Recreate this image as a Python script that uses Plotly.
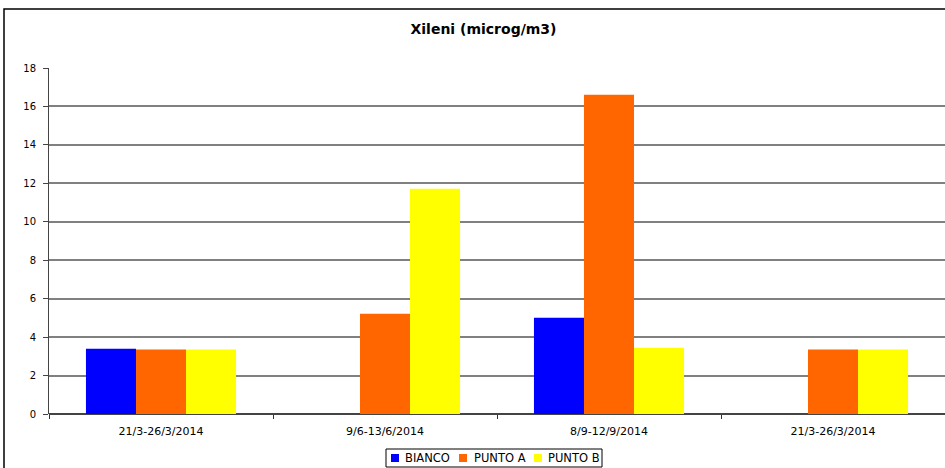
import plotly.graph_objects as go

# Sampling periods (the first and last share the same label)
periods = ["21/3-26/3/2014", "9/6-13/6/2014", "8/9-12/9/2014", "21/3-26/3/2014"]

# Xylene concentrations, microg/m3 (None = no measurement)
bianco = [3.40, None, 5.01, None]
punto_a = [3.35, 5.22, 16.61, 3.35]
punto_b = [3.35, 11.72, 3.45, 3.35]

series_names = ["BIANCO", "PUNTO A", "PUNTO B"]
series_values = [bianco, punto_a, punto_b]
series_colors = ["#0000FF", "#FF6600", "#FFFF00"]

W, H = 945, 468
ML, MR, MT, MB = 49, 0, 68, 54
PW, PH = W - ML - MR, H - MT - MB


def px_x(x):
    """Pixel column -> paper x."""
    return (x - ML) / PW


def px_y(y):
    """Pixel row -> paper y."""
    return (H - MB - y) / PH


positions = list(range(len(periods)))
font_family = "DejaVu Sans, Verdana, sans-serif"

fig = go.Figure()
for name, values, color in zip(series_names, series_values, series_colors):
    fig.add_trace(go.Bar(
        x=positions, y=values, name=name, showlegend=False,
        marker=dict(color=color, line=dict(width=0)),
    ))

# Boxed legend below the plot
legend_box = dict(x0=386, x1=602, y0=449, y1=467)
legend_marker_x = [391, 459, 534]
legend_text_x = [403, 472, 546]
legend_mid_y = 458

shapes = [
    # frame around the whole chart
    dict(type="rect", xref="paper", yref="paper",
         x0=px_x(4), x1=px_x(W + 20), y0=px_y(H + 20), y1=px_y(9),
         line=dict(color="black", width=1.5), fillcolor="rgba(0,0,0,0)",
         layer="below"),
    dict(type="rect", xref="paper", yref="paper",
         x0=px_x(legend_box["x0"]), x1=px_x(legend_box["x1"]),
         y0=px_y(legend_box["y1"]), y1=px_y(legend_box["y0"]),
         line=dict(color="black", width=1), fillcolor="white"),
]
annotations = []
for name, color, mx, tx in zip(series_names, series_colors, legend_marker_x, legend_text_x):
    shapes.append(dict(
        type="rect", xref="paper", yref="paper",
        x0=px_x(mx), x1=px_x(mx + 8),
        y0=px_y(legend_mid_y + 4), y1=px_y(legend_mid_y - 4),
        line=dict(width=0), fillcolor=color,
    ))
    annotations.append(dict(
        text=name, xref="paper", yref="paper",
        x=px_x(tx), y=px_y(legend_mid_y), xanchor="left", yanchor="middle",
        showarrow=False, font=dict(family=font_family, size=11.5, color="black"),
    ))

fig.update_layout(
    width=W, height=H,
    margin=dict(l=ML, r=MR, t=MT, b=MB),
    paper_bgcolor="white", plot_bgcolor="white",
    barmode="group", bargap=0.33, bargroupgap=0,
    font=dict(family=font_family, size=10, color="black"),
    showlegend=False,
    title=dict(
        text="<b>Xileni (microg/m3)</b>",
        x=483.5 / W, xref="container", xanchor="center",
        y=1 - 29 / H, yref="container", yanchor="middle",
        font=dict(family=font_family, size=14, color="black"),
    ),
    xaxis=dict(
        range=[-0.5, len(periods) - 0.5],
        tickmode="array", tickvals=positions, ticktext=periods,
        ticks="", showgrid=False, zeroline=False, showline=False,
        ticklabelstandoff=9,
        minor=dict(tick0=0.5, dtick=1, ticks="outside", ticklen=4,
                   tickcolor="#333333", tickwidth=1, showgrid=False),
        tickfont=dict(size=11),
    ),
    yaxis=dict(
        range=[0, 18], tickmode="linear", tick0=0, dtick=2,
        showgrid=True, gridcolor="#808080", gridwidth=1.5,
        zeroline=True, zerolinecolor="#444444", zerolinewidth=1.5,
        showline=True, linecolor="#444444", linewidth=1,
        ticks="outside", ticklen=5, tickcolor="#444444",
        ticklabelstandoff=5,
        tickfont=dict(size=10),
    ),
    shapes=shapes,
    annotations=annotations,
)

fig.write_html("out.html")
